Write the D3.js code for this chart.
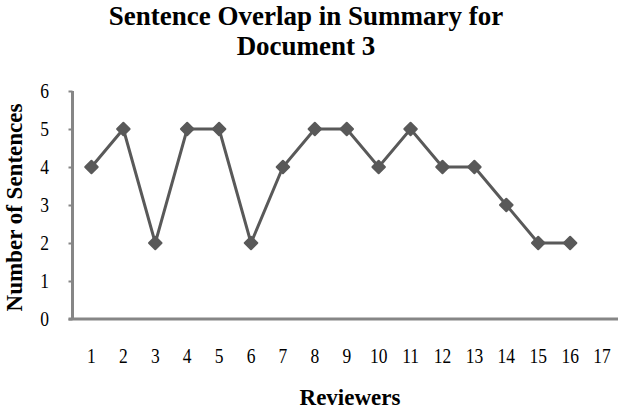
<!DOCTYPE html>
<html>
<head>
<meta charset="utf-8">
<title>Sentence Overlap</title>
<script src="https://cdn.jsdelivr.net/npm/d3@7"></script>
<style>
  body { margin: 0; background: #fff; }
  text { font-family: "Liberation Serif", "Times New Roman", serif; fill: #000; }
  .title { font-size: 27px; font-weight: bold; }
  .axis-title { font-size: 23px; font-weight: bold; }
  .tick text { font-size: 17.5px; }
</style>
</head>
<body>
<div id="chart"></div>
<script>
// data
var reviewers = ["1","2","3","4","5","6","7","8","9","10","11","12","13","14","15","16","17"];
var sentences = [4, 5, 2, 5, 5, 2, 4, 5, 5, 4, 5, 4, 4, 3, 2, 2];
var yTicks = [0, 1, 2, 3, 4, 5, 6];

var width = 618, height = 410;
var axisColor = "#868686", lineColor = "#595959";
var axisX = 72.5, axisY = 319;
var stretch = 1.15; // tick digits in the original are a bit tall

var svg = d3.select("#chart").append("svg")
    .attr("width", width)
    .attr("height", height);

var x = d3.scaleBand().domain(reviewers).range([75.5, 618]);
var y = d3.scaleLinear().domain([0, 6]).range([axisY, 91]);

// y axis
var yAxis = svg.append("g")
    .attr("transform", "translate(" + axisX + ",0)")
    .call(d3.axisLeft(y).tickValues(yTicks).tickFormat(d3.format("d"))
      .tickSize(4).tickPadding(19.5));
yAxis.select(".domain").attr("stroke", axisColor).attr("stroke-width", 3)
    .attr("d", "M0," + y(6) + "V" + axisY);
yAxis.selectAll(".tick line").attr("stroke", axisColor).attr("stroke-width", 2);
yAxis.selectAll(".tick text").attr("transform", "scale(1," + stretch + ")");

// x axis, no tick marks
var xAxis = svg.append("g")
    .attr("transform", "translate(0," + axisY + ")")
    .call(d3.axisBottom(x).tickSize(0).tickPadding(30));
xAxis.select(".domain").attr("stroke", axisColor).attr("stroke-width", 3)
    .attr("d", "M" + (axisX - 4) + ",0H618");
xAxis.selectAll(".tick text")
    .attr("y", 30 / stretch)
    .attr("transform", "scale(1," + stretch + ")");

// line
var cx = function(d, i) { return x(reviewers[i]) + x.bandwidth() / 2; };
var line = d3.line()
    .x(cx)
    .y(function(d) { return y(d); });

svg.append("path")
    .datum(sentences)
    .attr("d", line)
    .attr("fill", "none")
    .attr("stroke", lineColor)
    .attr("stroke-width", 3);

var diamond = d3.symbol().type(d3.symbolDiamond2).size(100);
svg.selectAll(".pt")
    .data(sentences)
    .enter()
    .append("path")
    .attr("class", "pt")
    .attr("d", diamond)
    .attr("transform", function(d, i) {
      return "translate(" + cx(d, i) + "," + y(d) + ")";
    })
    .attr("fill", lineColor)
    .attr("stroke", lineColor)
    .attr("stroke-width", 2)
    .attr("stroke-linejoin", "round");

// titles
svg.append("text").attr("class", "title")
    .attr("x", 306).attr("y", 25).attr("text-anchor", "middle")
    .text("Sentence Overlap in Summary for");
svg.append("text").attr("class", "title")
    .attr("x", 306).attr("y", 55).attr("text-anchor", "middle")
    .text("Document 3");

svg.append("text").attr("class", "axis-title")
    .attr("x", 350).attr("y", 405).attr("text-anchor", "middle")
    .text("Reviewers");

svg.append("text").attr("class", "axis-title")
    .attr("transform", "translate(22,207.5) rotate(-90)")
    .attr("text-anchor", "middle")
    .text("Number of Sentences");
</script>
</body>
</html>
